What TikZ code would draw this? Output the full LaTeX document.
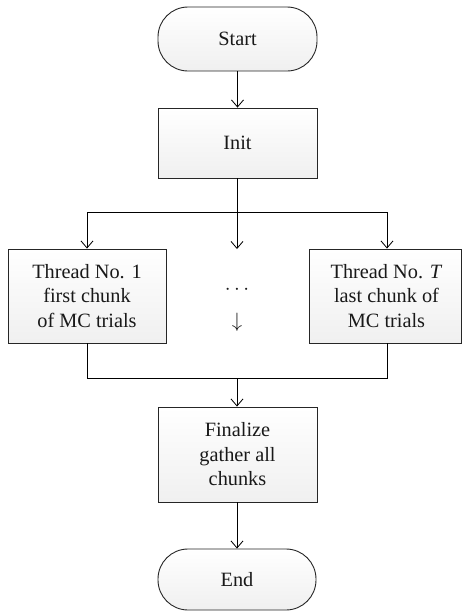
\documentclass[tikz,border=0pt]{standalone}
\usepackage{fontspec}
\setmainfont{Liberation Serif}
\usetikzlibrary{arrows.meta}
\begin{document}
\begin{tikzpicture}[x=1pt,y=-1pt,
  every node/.style={font=\fontsize{20.3}{24.5}\selectfont, align=center, inner sep=0pt, text=black!90},
  box/.style={draw=black!85, line width=0.9pt, top color=white, bottom color=black!6,
    shading angle=0},
  term/.style={box, rounded corners=30pt},
  arr/.style={draw, line width=0.8pt, -{Straight Barb[length=7pt,width=12pt,line width=0.8pt]}},
  ln/.style={draw, line width=0.8pt}]
\useasboundingbox (0,0) rectangle (462,611);

% terminals and process boxes
\node[term, minimum width=159pt, minimum height=64pt] (start) at (237.5,39) {Start};
\node[box, minimum width=159pt, minimum height=70pt] (init) at (237.5,143) {Init};
\node[box, minimum width=158pt, minimum height=94pt] (t1) at (87,296)
  {Thread No. 1\\first chunk\\of MC trials};
\node[box, minimum width=152pt, minimum height=94pt] (tT) at (385,296)
  {\hspace*{3pt}Thread No. \textit{T}\\\hspace*{3pt}last chunk of\\\hspace*{3pt}MC trials};
\node[box, minimum width=159pt, minimum height=95pt] (fin) at (237.5,454.5)
  {Finalize\\gather all\\chunks};
\node[term, minimum width=158pt, minimum height=61pt] (end) at (237,579.5) {End};

% elided middle threads
\node (dots) at (237,290) {$\cdots$};
\node (more) at (237,322) {$\downarrow$};

% fork and join points
\coordinate (split) at (237,212);
\coordinate (mid) at (237,249);
\coordinate (join) at (237,378);

% connectors
\draw[arr] (start) -- (init);
\draw[ln] (init.south -| split) -- (split);
\draw[arr] (split) -| (t1.north);
\draw[arr] (split) -| ([xshift=2pt]tT.north);
\draw[arr] (split) -- (mid);
\draw[ln] (t1.south) |- (join);
\draw[ln] ([xshift=2pt]tT.south) |- (join);
\draw[arr] (join) -- (fin.north -| join);
\draw[arr] (fin.south -| end.north) -- (end.north);
\end{tikzpicture}
\end{document}
